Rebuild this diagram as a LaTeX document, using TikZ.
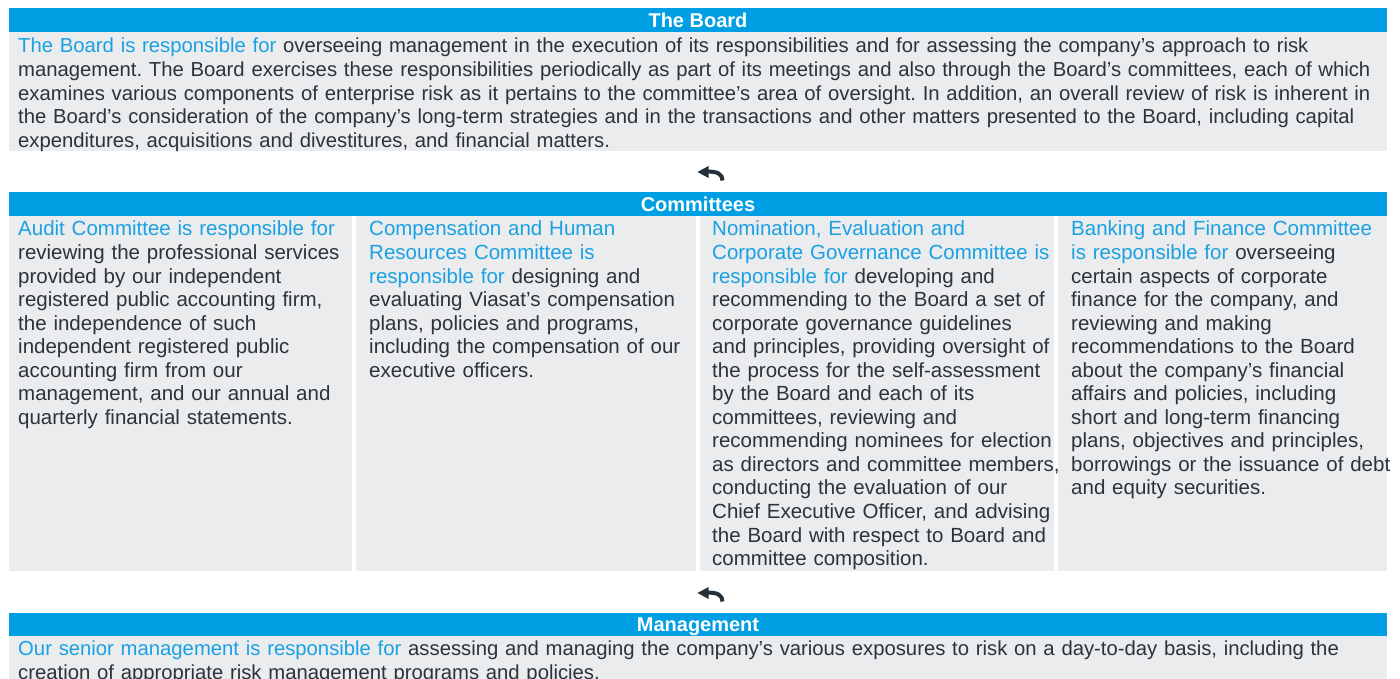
\documentclass[tikz,border=0pt]{standalone}
\usepackage{fontspec}
\setmainfont{Liberation Sans}
\definecolor{hdrblue}{HTML}{009FE3}
\definecolor{txtblue}{HTML}{1BA1E2}
\definecolor{bodygray}{HTML}{EBECEE}
\definecolor{txtdark}{HTML}{2B333C}
\definecolor{icondark}{HTML}{24303A}
\newcommand{\hl}[1]{\textcolor{txtblue}{#1}}
\newcommand{\fl}{\rule{0pt}{16pt}}
\frenchspacing
\tikzset{
  hdr/.style={fill=hdrblue, text=white, font=\fontsize{20}{24}\selectfont\bfseries,
    inner sep=0pt, minimum width=1378pt, minimum height=24pt,
    text height=14.3pt, text depth=0pt},
  bodybg/.style={fill=bodygray, inner sep=0pt, anchor=north west},
  bodytxt/.style={text=txtdark, font=\frenchspacing\fontsize{20.5}{23.55}\selectfont,
    inner sep=0pt, anchor=north west, align=left},
  widetxt/.style={bodytxt, font=\frenchspacing\fontsize{20.28}{23.62}\selectfont, text width=1390pt},
  replyicon/.pic={
    \fill[icondark] (-12.5,0) -- (-1.5,-6) -- (-1.5,6) -- cycle;
    \draw[icondark, line width=4pt] (-3,-0.3) .. controls (7,-0.8) and (12.5,2) .. (12.5,8.5);
  }
}
\begin{document}
\begin{tikzpicture}[x=1pt,y=-1pt]
\useasboundingbox (0,0) rectangle (1400,679);
\fill[white] (0,0) rectangle (1400,679);

% The Board
\node[hdr] (boardhdr) at (698,20) {The Board};
\node[bodybg, minimum width=1378pt, minimum height=118.7pt] (boardbg) at (9,32) {};
\node[widetxt] (boardtxt) at (18,36.7) {\fl\hl{The Board is responsible for} overseeing management in the execution of its responsibilities and for assessing the company’s approach to risk\\
management. The Board exercises these responsibilities periodically as part of its meetings and also through the Board’s committees, each of which\\
examines various components of enterprise risk as it pertains to the committee’s area of oversight. In addition, an overall review of risk is inherent in\\
the Board’s consideration of the company’s long-term strategies and in the transactions and other matters presented to the Board, including capital\\
expenditures, acquisitions and divestitures, and financial matters.};

\pic (icon1) at (710,172) {replyicon};

% Committees
\node[hdr] (comhdr) at (698,204) {Committees};
\node[bodybg, minimum width=342.7pt, minimum height=355pt] (col1bg) at (9,216) {};
\node[bodybg, minimum width=339.7pt, minimum height=355pt] (col2bg) at (356,216) {};
\node[bodybg, minimum width=354pt, minimum height=355pt] (col3bg) at (700,216) {};
\node[bodybg, minimum width=329pt, minimum height=355pt] (col4bg) at (1058,216) {};

\node[bodytxt, text width=380pt] (col1txt) at (18,219.7) {\fl\hl{Audit Committee is responsible for}\\
reviewing the professional services\\
provided by our independent\\
registered public accounting firm,\\
the independence of such\\
independent registered public\\
accounting firm from our\\
management, and our annual and\\
quarterly financial statements.};

\node[bodytxt, text width=380pt] (col2txt) at (369,219.7) {\fl\hl{Compensation and Human}\\
\hl{Resources Committee is}\\
\hl{responsible for} designing and\\
evaluating Viasat’s compensation\\
plans, policies and programs,\\
including the compensation of our\\
executive officers.};

\node[bodytxt, text width=380pt] (col3txt) at (712,219.7) {\fl\hl{Nomination, Evaluation and}\\
\hl{Corporate Governance Committee is}\\
\hl{responsible for} developing and\\
recommending to the Board a set of\\
corporate governance guidelines\\
and principles, providing oversight of\\
the process for the self-assessment\\
by the Board and each of its\\
committees, reviewing and\\
recommending nominees for election\\
as directors and committee members,\\
conducting the evaluation of our\\
Chief Executive Officer, and advising\\
the Board with respect to Board and\\
committee composition.};

\node[bodytxt, text width=380pt] (col4txt) at (1071,219.7) {\fl\hl{Banking and Finance Committee}\\
\hl{is responsible for} overseeing\\
certain aspects of corporate\\
finance for the company, and\\
reviewing and making\\
recommendations to the Board\\
about the company’s financial\\
affairs and policies, including\\
short and long-term financing\\
plans, objectives and principles,\\
borrowings or the issuance of debt\\
and equity securities.};

\pic (icon2) at (710,593) {replyicon};

% Management
\node[hdr, minimum height=23pt] (mgmthdr) at (698,624.3) {Management};
\node[bodybg, minimum width=1378pt, minimum height=45pt] (mgmtbg) at (9,635.7) {};
\node[widetxt] (mgmttxt) at (18,639.7) {\fl\hl{Our senior management is responsible for} assessing and managing the company’s various exposures to risk on a day-to-day basis, including the\\
creation of appropriate risk management programs and policies.};
\end{tikzpicture}
\end{document}
